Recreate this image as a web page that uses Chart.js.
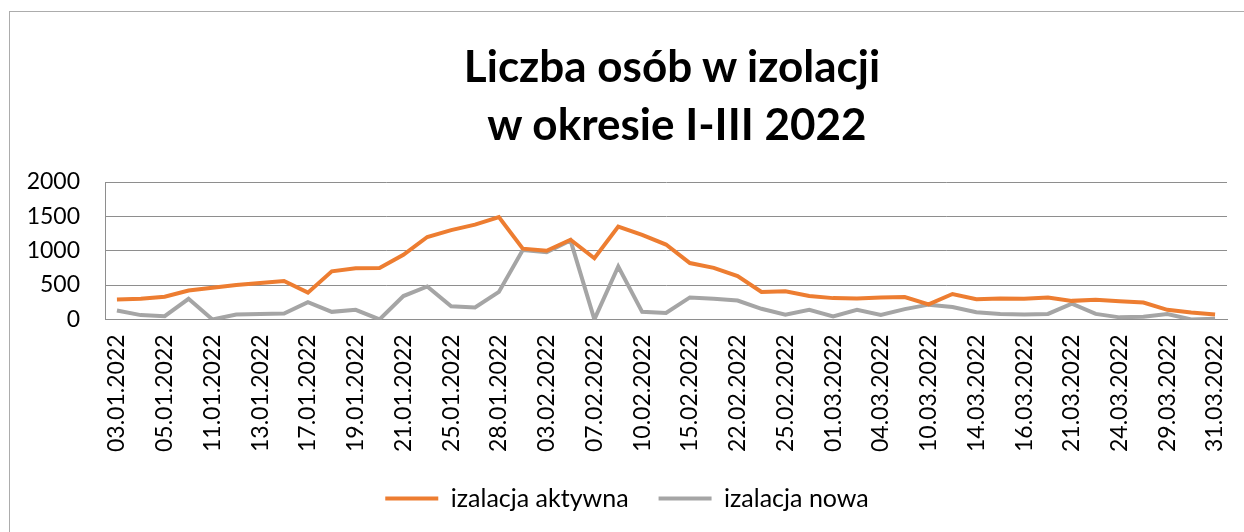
<!DOCTYPE html>
<html lang="pl">
<head>
<meta charset="utf-8">
<title>Liczba osób w izolacji</title>
<script src="https://cdn.jsdelivr.net/npm/chart.js@4.4.1/dist/chart.umd.min.js"></script>
<style>
    html, body { margin: 0; padding: 0; background: #fff; overflow: hidden; }
    body { width: 1244px; height: 532px; position: relative; font-family: Lato, "Open Sans", sans-serif; }
    #frame {
        position: absolute; left: 9px; top: 11px; width: 1260px; height: 540px;
        border-top: 1px solid #acacac; border-left: 1px solid #acacac;
    }
    #title {
        position: absolute; left: 0; top: 36px; width: 1344px;
        text-align: center; font-weight: 700; font-size: 44px; line-height: 58px;
        color: #000; white-space: pre;
    }
    #chart { position: absolute; left: 0; top: 0; }
</style>
</head>
<body>
<div id="frame"></div>
<canvas id="chart" width="1244" height="532"></canvas>
<div id="title">Liczba osób w izolacji
 w okresie I-III 2022</div>

<script>
const dates = [
    '03.01.2022', '04.01.2022', '05.01.2022', '10.01.2022', '11.01.2022', '12.01.2022',
    '13.01.2022', '14.01.2022', '17.01.2022', '18.01.2022', '19.01.2022', '20.01.2022',
    '21.01.2022', '24.01.2022', '25.01.2022', '27.01.2022', '28.01.2022', '31.01.2022',
    '03.02.2022', '04.02.2022', '07.02.2022', '09.02.2022', '10.02.2022', '14.02.2022',
    '15.02.2022', '21.02.2022', '22.02.2022', '24.02.2022', '25.02.2022', '28.02.2022',
    '01.03.2022', '03.03.2022', '04.03.2022', '09.03.2022', '10.03.2022', '11.03.2022',
    '14.03.2022', '15.03.2022', '16.03.2022', '18.03.2022', '21.03.2022', '23.03.2022',
    '24.03.2022', '28.03.2022', '29.03.2022', '30.03.2022', '31.03.2022'
];

const aktywna = [
    290, 300, 330, 420, 460, 500, 530, 560, 390, 700,
    745, 750, 940, 1200, 1300, 1380, 1490, 1030, 1000, 1160,
    890, 1350, 1230, 1090, 820, 750, 630, 400, 410, 340,
    310, 305, 320, 325, 220, 370, 295, 305, 300, 320,
    270, 285, 265, 245, 140, 100, 70
];

const nowa = [
    130, 63, 48, 300, 0, 70, 80, 85, 250, 110,
    140, 0, 340, 480, 190, 175, 400, 1010, 980, 1150,
    0, 770, 110, 95, 320, 300, 275, 155, 70, 140,
    45, 140, 65, 150, 215, 180, 105, 80, 70, 80,
    230, 80, 30, 40, 80, 0, 10
];

const yTicks = [0, 500, 1000, 1500, 2000];

const gridColor = '#8e8e8e';
const tickFont = { family: 'Lato, "Open Sans", sans-serif', size: 23 };

new Chart(document.getElementById('chart'), {
    type: 'line',
    data: {
        labels: dates,
        datasets: [
            {
                label: 'izalacja aktywna',
                data: aktywna,
                borderColor: '#ED7D31',
                backgroundColor: '#ED7D31',
                borderWidth: 4,
                pointRadius: 0,
                tension: 0
            },
            {
                label: 'izalacja nowa',
                data: nowa,
                borderColor: '#A5A5A5',
                backgroundColor: '#A5A5A5',
                borderWidth: 4,
                pointRadius: 0,
                tension: 0
            }
        ]
    },
    options: {
        responsive: false,
        animation: false,
        layout: { padding: { left: 27, right: 17, top: 182, bottom: 11 } },
        plugins: {
            title: { display: false },
            tooltip: { enabled: false },
            legend: {
                position: 'bottom',
                labels: {
                    color: '#000',
                    font: { ...tickFont, size: 25 },
                    boxWidth: 53,
                    boxHeight: 4,
                    padding: 30,
                    generateLabels: chart => Chart.defaults.plugins.legend.labels.generateLabels(chart)
                        .map(item => ({ ...item, lineWidth: 0, fillStyle: item.strokeStyle }))
                }
            }
        },
        scales: {
            x: {
                offset: true,
                grid: { display: false, drawTicks: false },
                border: { display: true, color: gridColor, width: 1 },
                afterFit: scale => {
                    // excel lets the last rotated label hang past the plot edge
                    scale.paddingRight = 0;
                    scale.height -= 11;
                },
                ticks: {
                    color: '#000',
                    font: tickFont,
                    autoSkip: false,
                    minRotation: 90,
                    maxRotation: 90,
                    padding: 15,
                    callback: (val, i) => (i % 2 === 0 ? dates[i] : '')
                }
            },
            y: {
                min: yTicks[0],
                max: yTicks[yTicks.length - 1],
                afterBuildTicks: scale => { scale.ticks = yTicks.map(v => ({ value: v })); },
                afterFit: scale => { scale.width = 78; },
                grid: { color: gridColor, drawTicks: false },
                border: { display: true, color: gridColor },
                ticks: { color: '#000', font: tickFont, padding: 25, callback: v => String(v) }
            }
        }
    }
});
</script>
</body>
</html>
